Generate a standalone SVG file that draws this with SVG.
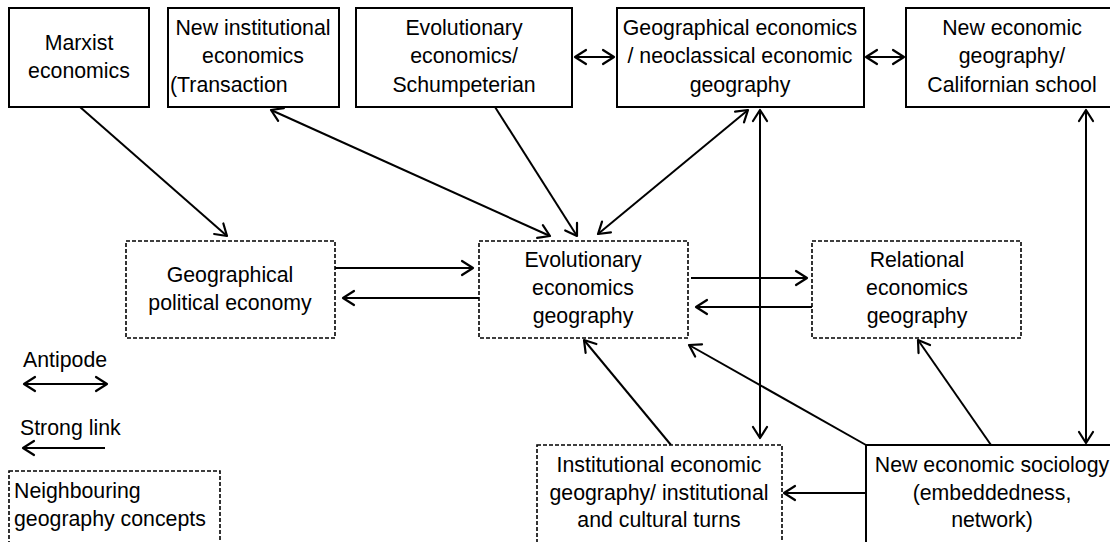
<svg xmlns="http://www.w3.org/2000/svg" width="1110" height="542" viewBox="0 0 1110 542">
<style>
  text { font-family: "Liberation Sans", Arial, sans-serif; font-size: 21.3px; fill: #000; }
  .c { text-anchor: middle; }
  .solid { fill: #fff; stroke: #000; stroke-width: 2; }
  .dash { fill: #fff; stroke: #000; stroke-width: 1.6; stroke-dasharray: 4 2; }
  .ln { fill: none; stroke: #000; stroke-width: 2; }
  .one { marker-end: url(#ah); }
  .two { marker-start: url(#ah); marker-end: url(#ah); }
</style>
<defs>
  <marker id="ah" markerUnits="userSpaceOnUse" viewBox="-14 -10 16 20" refX="0" refY="0" markerWidth="16" markerHeight="20" orient="auto-start-reverse">
    <path d="M-11,-7 L0,0 L-11,7" fill="none" stroke="#000" stroke-width="2.2" stroke-linejoin="round" stroke-linecap="round"/>
  </marker>
</defs>
<rect width="1110" height="542" fill="#fff"/>

<g id="connectors">
  <path class="ln one" d="M80,107 L227,236"/>
  <path class="ln two" d="M271,110 L550,236"/>
  <path class="ln one" d="M495,107 L577,236"/>
  <path class="ln two" d="M748,110 L598,234"/>
  <path class="ln two" d="M575,57 L614,57"/>
  <path class="ln two" d="M866,57 L904,57"/>
  <path class="ln two" d="M760,110 L760,438"/>
  <path class="ln two" d="M1086,110 L1086,443"/>
  <path class="ln one" d="M335,268 L473,268"/>
  <path class="ln one" d="M479,298 L343,298"/>
  <path class="ln one" d="M691,278 L807,278"/>
  <path class="ln one" d="M812,307 L696,307"/>
  <path class="ln one" d="M671,445 L584,340"/>
  <path class="ln one" d="M866,445 L689,345"/>
  <path class="ln one" d="M991,445 L918,340"/>
  <path class="ln one" d="M866,493 L784,493"/>
</g>

<g id="marxist">
  <rect class="solid" x="9" y="8" width="140" height="99"/>
  <text class="c" x="79" y="50">Marxist</text>
  <text class="c" x="79" y="78">economics</text>
</g>
<g id="new-institutional">
  <rect class="solid" x="168" y="8" width="171" height="99"/>
  <text class="c" x="253" y="35">New institutional</text>
  <text class="c" x="253" y="63">economics</text>
  <text x="170" y="92">(Transaction</text>
</g>
<g id="evolutionary-schumpeterian">
  <rect class="solid" x="356" y="8" width="216" height="99"/>
  <text class="c" x="464" y="35">Evolutionary</text>
  <text class="c" x="464" y="63">economics/</text>
  <text class="c" x="464" y="92">Schumpeterian</text>
</g>
<g id="geographical-economics">
  <rect class="solid" x="617" y="8" width="247" height="99"/>
  <text class="c" x="740" y="35">Geographical economics</text>
  <text class="c" x="740" y="63">/ neoclassical economic</text>
  <text class="c" x="740" y="92">geography</text>
</g>
<g id="new-economic-geography">
  <rect class="solid" x="906" y="8" width="214" height="99"/>
  <text class="c" x="1012" y="35">New economic</text>
  <text class="c" x="1012" y="63">geography/</text>
  <text class="c" x="1012" y="92">Californian school</text>
</g>

<g id="geographical-political-economy">
  <rect class="dash" x="126" y="241" width="209" height="97"/>
  <text class="c" x="230" y="282">Geographical</text>
  <text class="c" x="230" y="310">political economy</text>
</g>
<g id="evolutionary-economics-geography">
  <rect class="dash" x="479" y="241" width="209" height="97"/>
  <text class="c" x="583" y="267">Evolutionary</text>
  <text class="c" x="583" y="295">economics</text>
  <text class="c" x="583" y="323">geography</text>
</g>
<g id="relational-economics-geography">
  <rect class="dash" x="812" y="241" width="209" height="97"/>
  <text class="c" x="917" y="267">Relational</text>
  <text class="c" x="917" y="295">economics</text>
  <text class="c" x="917" y="323">geography</text>
</g>

<g id="institutional-economic-geography">
  <rect class="dash" x="537" y="445" width="245" height="110"/>
  <text class="c" x="659" y="472">Institutional economic</text>
  <text class="c" x="659" y="500">geography/ institutional</text>
  <text class="c" x="659" y="527">and cultural turns</text>
</g>
<g id="new-economic-sociology">
  <rect class="solid" x="866" y="445" width="254" height="110"/>
  <text class="c" x="992" y="472">New economic sociology</text>
  <text class="c" x="992" y="500">(embeddedness,</text>
  <text class="c" x="992" y="527">network)</text>
</g>

<g id="legend">
  <text x="23" y="367">Antipode</text>
  <path class="ln two" d="M24,384 L107,384"/>
  <text x="20" y="435">Strong link</text>
  <path class="ln one" d="M105,448 L23,448"/>
  <rect class="dash" x="9" y="471" width="211" height="90"/>
  <text x="14" y="498">Neighbouring</text>
  <text x="14" y="526">geography concepts</text>
</g>
</svg>
